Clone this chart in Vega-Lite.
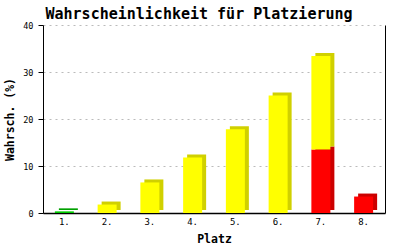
{
  "$schema": "https://vega.github.io/schema/vega-lite/v6.json",
  "autosize": {"type": "none"},
  "width": 342,
  "height": 188,
  "padding": {"left": 43, "top": 25, "right": 15, "bottom": 37},
  "background": "white",
  "title": {
    "text": "Wahrscheinlichkeit für Platzierung",
    "font": "DejaVu Sans Mono",
    "fontSize": 15,
    "fontWeight": "bold",
    "color": "black",
    "anchor": "middle",
    "frame": "group",
    "dx": -15,
    "dy": 19,
    "baseline": "alphabetic",
    "offset": 6
  },
  "data": {
    "values": [
      {"platz": "1.", "zone": "gruen", "wert": 0.35},
      {"platz": "2.", "zone": "gelb", "wert": 1.8},
      {"platz": "3.", "zone": "gelb", "wert": 6.5},
      {"platz": "4.", "zone": "gelb", "wert": 11.8},
      {"platz": "5.", "zone": "gelb", "wert": 17.8},
      {"platz": "6.", "zone": "gelb", "wert": 25.0},
      {"platz": "7.", "zone": "rot", "wert": 13.5},
      {"platz": "7.", "zone": "gelb", "wert": 19.9},
      {"platz": "8.", "zone": "rot", "wert": 3.5}
    ]
  },
  "config": {
    "view": {"stroke": null},
    "axis": {
      "labelFont": "DejaVu Sans Mono",
      "titleFont": "DejaVu Sans Mono",
      "labelColor": "black",
      "titleColor": "black",
      "domainColor": "black",
      "tickColor": "black"
    }
  },
  "layer": [
    {
      "mark": {"type": "bar", "size": 19, "xOffset": 4, "yOffset": -3},
      "encoding": {
        "x": {
          "field": "platz", "type": "ordinal",
          "scale": {"paddingInner": 0, "paddingOuter": 0},
          "axis": {
            "title": "Platz", "titleFontSize": 11.5, "titleFontWeight": "bold",
            "labelAngle": 0, "labelFontSize": 9, "ticks": false, "labelPadding": 4,
            "titlePadding": 7, "domainWidth": 1.5
          }
        },
        "y": {
          "field": "wert", "type": "quantitative", "stack": "zero",
          "scale": {"domain": [0, 40], "nice": false},
          "axis": {
            "title": "Wahrsch. (%)", "titleFontSize": 11.5, "titleFontWeight": "bold",
            "values": [0, 10, 20, 30, 40], "labelFontSize": 8.5, "tickSize": 5,
            "labelPadding": 5, "titlePadding": 7,
            "grid": true, "gridDash": [2, 4], "gridColor": "#bbbbbb"
          }
        },
        "color": {
          "field": "zone", "type": "nominal",
          "scale": {"domain": ["gruen", "gelb", "rot"], "range": ["#00a000", "#d0d000", "#cc0000"]},
          "legend": null
        },
        "order": {"field": "zone", "sort": "descending"}
      }
    },
    {
      "mark": {"type": "bar", "size": 19},
      "encoding": {
        "x": {"field": "platz", "type": "ordinal"},
        "y": {
          "field": "wert", "type": "quantitative", "stack": "zero",
          "axis": {
            "orient": "right", "title": null, "labels": false, "ticks": false,
            "grid": false, "domainColor": "black"
          }
        },
        "color": {
          "field": "zone", "type": "nominal",
          "scale": {"domain": ["gruen", "gelb", "rot"], "range": ["#00cc00", "#ffff00", "#ff0000"]},
          "legend": null
        },
        "order": {"field": "zone", "sort": "descending"}
      }
    }
  ],
  "resolve": {"scale": {"color": "independent"}, "axis": {"y": "independent"}}
}
